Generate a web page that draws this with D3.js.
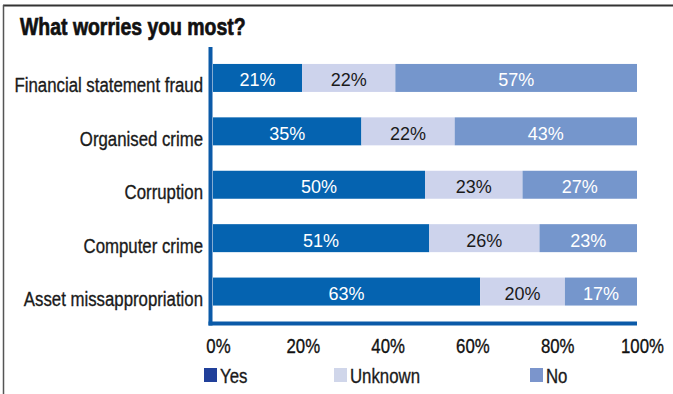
<!DOCTYPE html>
<html>
<head>
<meta charset="utf-8">
<script src="https://cdn.jsdelivr.net/npm/d3@7"></script>
<style>
  html, body { margin: 0; padding: 0; background: #fff; }
  svg { display: block; }
  text { font-family: "Liberation Sans", Arial, sans-serif; }
</style>
</head>
<body>
<svg id="chart" width="673" height="394"></svg>
<script>
// Survey answers, percent of respondents
const categories = [
  "Financial statement fraud",
  "Organised crime",
  "Corruption",
  "Computer crime",
  "Asset missappropriation"
];
const seriesNames = ["Yes", "Unknown", "No"];
const yesValues = [21, 35, 50, 51, 63];
const unknownValues = [22, 22, 23, 26, 20];
const noValues = [57, 43, 27, 23, 17];
const tickValues = [0, 20, 40, 60, 80, 100];
const titleText = "What worries you most?";

const barColors = { Yes: "#0563b0", Unknown: "#cdd3ec", No: "#7596cc" };
const legendColors = { Yes: "#21409a", Unknown: "#d0d6ea", No: "#7b95cc" };
const labelColors = { Yes: "#ffffff", Unknown: "#1a1a1a", No: "#ffffff" };

// Condensed look: regular sans squeezed horizontally, lightly stroked for weight
const NARROW = 0.8;

const rows = categories.map((c, i) => ({
  category: c, Yes: yesValues[i], Unknown: unknownValues[i], No: noValues[i]
}));
const stacked = d3.stack().keys(seriesNames)(rows);

const svg = d3.select("#chart");

// Frame: rule across the top and down the left side
svg.append("line").attr("x1", 3).attr("x2", 673).attr("y1", 5.5).attr("y2", 5.5)
  .attr("stroke", "#333").attr("stroke-width", 2.2);
svg.append("line").attr("x1", 3.5).attr("x2", 3.5).attr("y1", 5).attr("y2", 394)
  .attr("stroke", "#555").attr("stroke-width", 1.5);

// Title
svg.append("text")
  .attr("transform", "translate(20,35) scale(0.81,1)")
  .attr("font-size", 24).attr("font-weight", "bold").attr("fill", "#111")
  .attr("stroke", "#111").attr("stroke-width", 0.7)
  .text(titleText);

const x = d3.scaleLinear().domain([0, 100]).range([213, 637]);
const y = d3.scaleBand().domain(categories).range([50.6, 318.9])
  .paddingInner(0.476).paddingOuter(0.25);

// Bars
const layer = svg.append("g").selectAll("g").data(stacked).join("g")
  .attr("fill", d => barColors[d.key]);
layer.selectAll("rect").data(d => d.map(v => ({ v, key: d.key }))).join("rect")
  .attr("x", d => x(d.v[0]))
  .attr("width", d => x(d.v[1]) - x(d.v[0]))
  .attr("y", d => y(d.v.data.category))
  .attr("height", y.bandwidth());

// Value labels centred in each segment
layer.selectAll("text").data(d => d.map(v => ({ v, key: d.key }))).join("text")
  .attr("x", d => (x(d.v[0]) + x(d.v[1])) / 2)
  .attr("y", d => y(d.v.data.category) + y.bandwidth() / 2 + 8.5)
  .attr("text-anchor", "middle")
  .attr("font-size", 18)
  .attr("fill", d => labelColors[d.key])
  .text(d => (d.v[1] - d.v[0]) + "%");

// Category labels
svg.append("g").selectAll("text").data(categories).join("text")
  .attr("transform", d => `translate(203,${y(d) + y.bandwidth() / 2 + 14.5}) scale(${NARROW},1)`)
  .attr("text-anchor", "end")
  .attr("font-size", 21)
  .attr("fill", "#1a1a1a").attr("stroke", "#1a1a1a").attr("stroke-width", 0.35)
  .text(d => d);

// Axis lines
svg.append("line").attr("x1", 210.5).attr("x2", 210.5).attr("y1", 47).attr("y2", 325.5)
  .attr("stroke", "#0b5aa8").attr("stroke-width", 4);
svg.append("line").attr("x1", 208.5).attr("x2", 637).attr("y1", 323.5).attr("y2", 323.5)
  .attr("stroke", "#0b5aa8").attr("stroke-width", 4);

// Percent ticks along the bottom
const xAxis = d3.axisBottom(x).tickValues(tickValues).tickSize(0).tickPadding(0)
  .tickFormat(d => d + "%");
const axisG = svg.append("g").attr("transform", "translate(5,353)").call(xAxis);
axisG.select(".domain").remove();
axisG.selectAll("text")
  .attr("y", 0).attr("dy", null)
  .attr("transform", `scale(${NARROW},1)`)
  .attr("font-size", 21).attr("fill", "#111")
  .attr("stroke", "#111").attr("stroke-width", 0.35)
  .style("font-family", "\"Liberation Sans\", Arial, sans-serif");

// Legend
const legendX = [204, 334, 530];
const legend = svg.append("g").selectAll("g").data(seriesNames).join("g")
  .attr("transform", (d, i) => `translate(${legendX[i]},368)`);
legend.append("rect").attr("width", 13).attr("height", 14)
  .attr("fill", d => legendColors[d]);
legend.append("text")
  .attr("transform", `translate(16,14.5) scale(${NARROW},1)`)
  .attr("font-size", 21).attr("fill", "#1a1a1a")
  .attr("stroke", "#1a1a1a").attr("stroke-width", 0.35)
  .text(d => d);
</script>
</body>
</html>
